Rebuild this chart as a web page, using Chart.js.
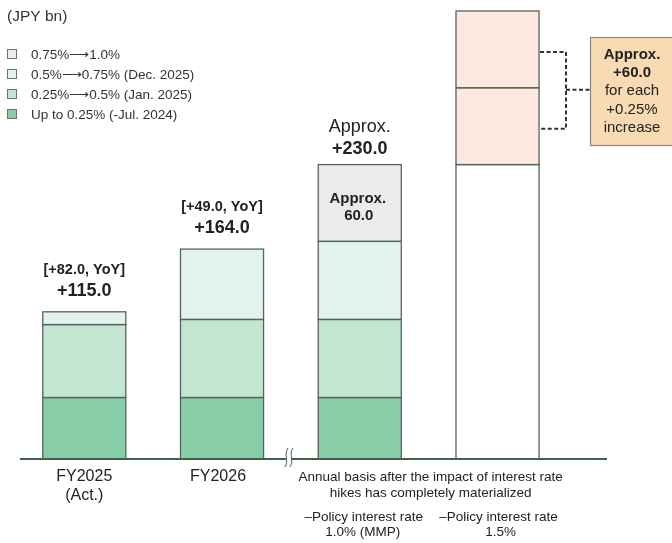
<!DOCTYPE html>
<html>
<head>
<meta charset="utf-8">
<script src="https://cdn.jsdelivr.net/npm/chart.js@4/dist/chart.umd.min.js"></script>
<style>
  html, body { margin: 0; padding: 0; background: #ffffff; }
  #wrap { width: 672px; height: 543px; position: relative; }
</style>
</head>
<body>
<div id="wrap"><canvas id="c" width="672" height="543"></canvas></div>
<script>
// Categories (x positions of the four stacked bars)
const categories = ['FY2025', 'FY2026', 'Policy 1.0%', 'Policy 1.5%'];

// Stacked segments, JPY bn
const upTo025   = [48, 48, 48, null];     // Up to 0.25% (-Jul. 2024)
const r025to05  = [57, 61, 61, null];     // 0.25% -> 0.5% (Jan. 2025)
const r05to075  = [10, 55, 61, null];     // 0.5% -> 0.75% (Dec. 2025)
const r075to10  = [null, null, 60, null]; // 0.75% -> 1.0%
const base15    = [null, null, null, 230]; // 1.5% case: level reached at 1.0%
const step1     = [null, null, null, 60];  // first +0.25%
const step2     = [null, null, null, 60];  // second +0.25%

const totals    = [115.0, 164.0, 230.0, 350.0];
const yoyLabels = ['[+82.0, YoY]', '[+49.0, YoY]'];
const legendLabels = ['0.75%\u27F61.0%', '0.5%\u27F60.75% (Dec. 2025)', '0.25%\u27F60.5% (Jan. 2025)', 'Up to 0.25% (-Jul. 2024)'];
const boxLines = ['Approx.', '+60.0', 'for each', '+0.25%', 'increase'];

const C_BASE = '#88cea8', C_MID = '#c2e6d2', C_LIGHT = '#e2f2ec', C_GREY = '#ebebeb', C_PEACH = '#fde9e0';
const EDGE = '#58645b';
const FONT = '"Liberation Sans", Arial, sans-serif';

function ds(label, data, color) {
  return { label, data, backgroundColor: color, borderWidth: 0, stack: 's' };
}

const annotate = {
  id: 'annotate',
  afterDatasetsDraw(chart) {
    const ctx = chart.ctx, xs = chart.scales.x, ys = chart.scales.y;
    const y0 = ys.getPixelForValue(0);
    ctx.save();

    // single outline around every stacked segment
    ctx.strokeStyle = EDGE;
    ctx.lineWidth = 1.3;
    chart.data.datasets.forEach((d, di) => {
      chart.getDatasetMeta(di).data.forEach((el, i) => {
        if (d.data[i] == null) return;
        const l = el.x - el.width / 2, top = Math.min(el.y, el.base), h = Math.abs(el.base - el.y);
        ctx.strokeRect(l, top, el.width, h);
      });
    });

    // baseline
    ctx.strokeStyle = '#3e6446';
    ctx.lineWidth = 2;
    ctx.beginPath(); ctx.moveTo(20, y0); ctx.lineTo(607, y0); ctx.stroke();

    // axis break between FY2026 and the materialized cases
    const bx = (xs.getPixelForValue(1) + xs.getPixelForValue(2)) / 2 - 2;
    ctx.fillStyle = '#fff';
    ctx.fillRect(bx - 3, y0 - 3, 6, 6);
    ctx.strokeStyle = '#555';
    ctx.lineWidth = 1;
    [-2.5, 2.5].forEach(d => {
      ctx.beginPath();
      ctx.moveTo(bx + d + 1.5, y0 - 11);
      ctx.bezierCurveTo(bx + d - 3, y0 - 4, bx + d + 3, y0 + 2, bx + d - 1.5, y0 + 8);
      ctx.stroke();
    });

    ctx.fillStyle = '#222';
    ctx.textAlign = 'center';
    ctx.textBaseline = 'middle';

    // labels above FY bars
    for (let i = 0; i < 2; i++) {
      const x = xs.getPixelForValue(i), yt = ys.getPixelForValue(totals[i]);
      ctx.font = 'bold 14.5px ' + FONT;
      ctx.fillText(yoyLabels[i], x, yt - 42);
      ctx.font = 'bold 18px ' + FONT;
      ctx.fillText('+' + totals[i].toFixed(1), x, yt - 21);
    }
    // label above 1.0% case
    {
      const x = xs.getPixelForValue(2), yt = ys.getPixelForValue(totals[2]);
      ctx.font = '18px ' + FONT;
      ctx.fillText('Approx.', x, yt - 38);
      ctx.font = 'bold 18px ' + FONT;
      ctx.fillText('+' + totals[2].toFixed(1), x, yt - 16);
      // value inside the grey segment
      ctx.font = 'bold 15px ' + FONT;
      ctx.fillText('Approx.', x - 2, yt + 34);
      ctx.fillText(r075to10[2].toFixed(1), x - 1, yt + 51);
    }

    // bracket and callout for the 1.5% case
    const bar = chart.getDatasetMeta(6).data[3];
    const right = bar.x + bar.width / 2;
    const yA = ys.getPixelForValue(base15[3] + step1[3] + step2[3] - 32);
    const yB = ys.getPixelForValue(base15[3] + step1[3] - 32);
    const yM = ys.getPixelForValue(base15[3] + step1[3]) + 2;
    ctx.strokeStyle = '#333';
    ctx.lineWidth = 2;
    ctx.setLineDash([4, 2.5]);
    ctx.beginPath();
    ctx.moveTo(right + 1, yA); ctx.lineTo(566, yA); ctx.lineTo(566, yB); ctx.lineTo(right + 1, yB);
    ctx.moveTo(566, yM); ctx.lineTo(590, yM);
    ctx.stroke();
    ctx.setLineDash([]);

    ctx.fillStyle = '#f8dab3';
    ctx.fillRect(590, 37, 90, 109);
    ctx.strokeStyle = '#8a8a8a';
    ctx.lineWidth = 1.2;
    ctx.strokeRect(590.5, 37.5, 90, 108);
    ctx.fillStyle = '#222';
    const by = [55, 72.5, 91, 109.5, 128];
    boxLines.forEach((t, i) => {
      ctx.font = (i < 2 ? 'bold ' : '') + '15px ' + FONT;
      ctx.fillText(t, 632, by[i]);
    });

    // unit and legend
    ctx.textAlign = 'left';
    ctx.font = '15.5px ' + FONT;
    ctx.fillStyle = '#333';
    ctx.fillText('(JPY bn)', 7, 17);
    const lc = [C_GREY, C_LIGHT, C_MID, C_BASE];
    legendLabels.forEach((t, i) => {
      const cy = 54 + i * 20;
      ctx.fillStyle = lc[i];
      ctx.fillRect(7, cy - 5, 10, 10);
      ctx.strokeStyle = '#6e6e6e';
      ctx.lineWidth = 1;
      ctx.strokeRect(7.5, cy - 4.5, 9, 9);
      ctx.fillStyle = '#333';
      ctx.font = '13.5px ' + FONT;
      ctx.fillText(t, 31, cy + 1);
    });

    // category labels
    ctx.textAlign = 'center';
    ctx.fillStyle = '#222';
    ctx.font = '16px ' + FONT;
    ctx.fillText('FY2025', xs.getPixelForValue(0), 477);
    ctx.fillText('(Act.)', xs.getPixelForValue(0), 496);
    ctx.fillText('FY2026', xs.getPixelForValue(1) - 4, 477);
    const mid = (xs.getPixelForValue(2) + xs.getPixelForValue(3)) / 2;
    ctx.font = '13.5px ' + FONT;
    ctx.fillText('Annual basis after the impact of interest rate', mid + 2, 477);
    ctx.fillText('hikes has completely materialized', mid + 2, 493);
    ctx.fillText('\u2013Policy interest rate', xs.getPixelForValue(2) + 4, 517);
    ctx.fillText('1.0% (MMP)', xs.getPixelForValue(2) + 3, 532);
    ctx.fillText('\u2013Policy interest rate', xs.getPixelForValue(3) + 1, 517);
    ctx.fillText('1.5%', xs.getPixelForValue(3) + 3, 532);
    ctx.restore();
  }
};

new Chart(document.getElementById('c'), {
  type: 'bar',
  data: {
    labels: categories,
    datasets: [
      ds('Up to 0.25% (-Jul. 2024)', upTo025, C_BASE),
      ds('0.25%\u21920.5% (Jan. 2025)', r025to05, C_MID),
      ds('0.5%\u21920.75% (Dec. 2025)', r05to075, C_LIGHT),
      ds('0.75%\u21921.0%', r075to10, C_GREY),
      ds('Level at 1.0%', base15, '#ffffff'),
      ds('+0.25% (1)', step1, C_PEACH),
      ds('+0.25% (2)', step2, C_PEACH)
    ]
  },
  options: {
    responsive: false,
    animation: false,
    layout: { padding: { left: 15.4, right: 105.6, top: 11, bottom: 84 } },
    categoryPercentage: 1,
    barPercentage: 0.603,
    plugins: { legend: { display: false }, tooltip: { enabled: false } },
    scales: {
      x: { stacked: true, display: false },
      y: { stacked: true, display: false, min: 0, max: 350 }
    }
  },
  plugins: [annotate]
});
</script>
</body>
</html>
